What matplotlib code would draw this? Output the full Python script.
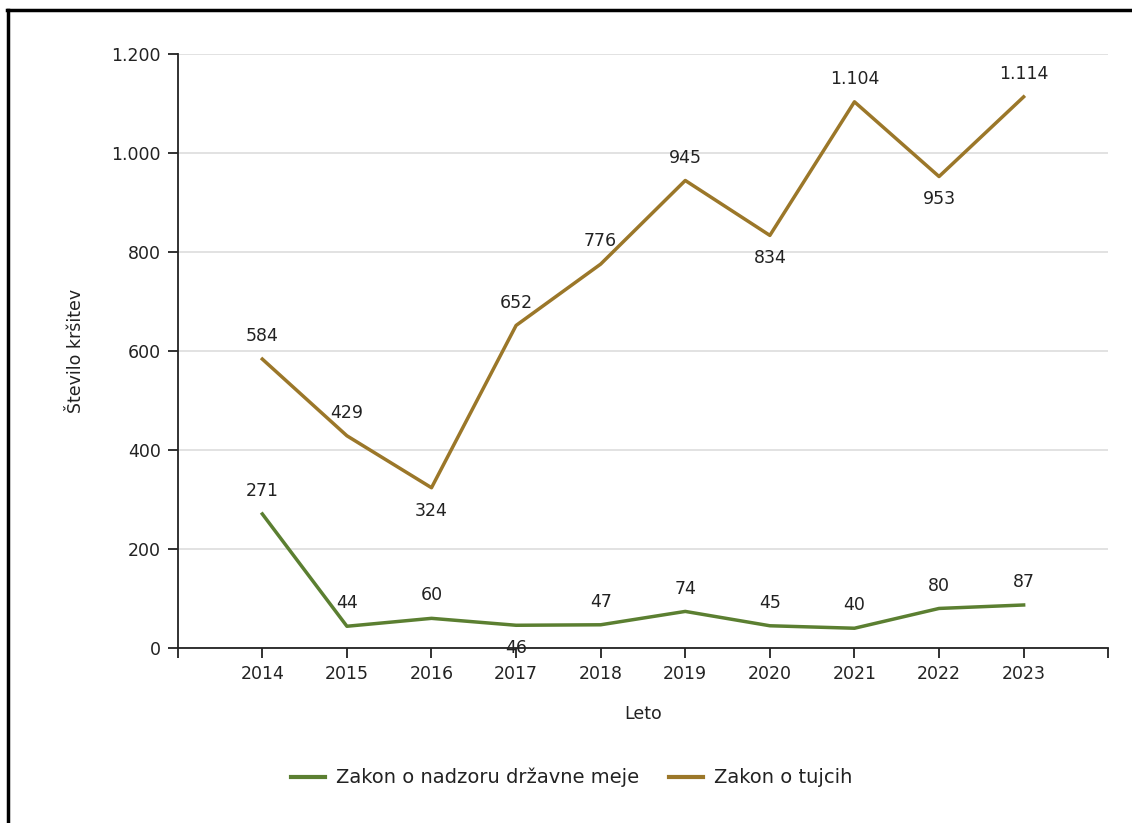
import matplotlib.pyplot as plt
import matplotlib.ticker as mticker
from matplotlib.lines import Line2D

plt.rcParams['font.family'] = ['DejaVu Sans']

years = [2014, 2015, 2016, 2017, 2018, 2019, 2020, 2021, 2022, 2023]
meja = [271, 44, 60, 46, 47, 74, 45, 40, 80, 87]
tujci = [584, 429, 324, 652, 776, 945, 834, 1104, 953, 1114]
# which labels sit below the point
meja_below = [False, False, False, True, False, False, False, False, False, False]
tujci_below = [False, False, True, False, False, False, True, False, True, False]

green = '#5b7f31'
brown = '#9b7729'
txt = '#222222'
fs = 12.5

def fmt(v):
    return f"{v:,.0f}".replace(",", ".")

fig = plt.figure(figsize=(11.32, 8.23), dpi=100)
ax = fig.add_axes([0.157, 0.2126, 0.822, 0.7214])

ax.plot(years, meja, color=green, lw=2.5)
ax.plot(years, tujci, color=brown, lw=2.5)

for data, below in ((meja, meja_below), (tujci, tujci_below)):
    for x, y, b in zip(years, data, below):
        ax.annotate(fmt(y), (x, y), xytext=(0, -16.5 if b else 16.5), textcoords='offset points',
                    ha='center', va='center', fontsize=fs, color=txt)

ax.set_xlim(2013, 2024)
ax.set_ylim(0, 1200)
ax.set_xticks(range(2013, 2025))
ax.set_xticklabels([''] + [str(y) for y in years] + [''])
ax.set_yticks(range(0, 1201, 200))
ax.yaxis.set_major_formatter(mticker.FuncFormatter(lambda v, p: fmt(v)))
ax.tick_params(axis='both', length=7, width=1.3, colors='#222222', labelsize=fs,
               labelcolor=txt, pad=5)
ax.grid(axis='y', color='#dddddd', lw=1.2)
ax.set_axisbelow(True)
for s in ('top', 'right'):
    ax.spines[s].set_visible(False)
for s in ('left', 'bottom'):
    ax.spines[s].set_linewidth(1.3)
    ax.spines[s].set_color('#222222')

ax.set_xlabel('Leto', fontsize=fs, color=txt, labelpad=16)
ax.set_ylabel('Število kršitev', fontsize=fs, color=txt, labelpad=19)

handles = [Line2D([], [], color=green, lw=3), Line2D([], [], color=brown, lw=3)]
fig.legend(handles, ['Zakon o nadzoru državne meje', 'Zakon o tujcih'], loc='center',
           bbox_to_anchor=(0.505, 0.055), ncol=2, frameon=False, fontsize=14,
           handlelength=1.75, handletextpad=0.6, columnspacing=1.5, labelcolor=txt)

# outer frame (left and top edges visible)
fig.add_artist(Line2D([0.0075, 0.0075], [0, 0.988], color='black', lw=2.5, transform=fig.transFigure))
fig.add_artist(Line2D([0.0064, 1], [0.988, 0.988], color='black', lw=2.5, transform=fig.transFigure))

fig.savefig('out.png', dpi=100)
